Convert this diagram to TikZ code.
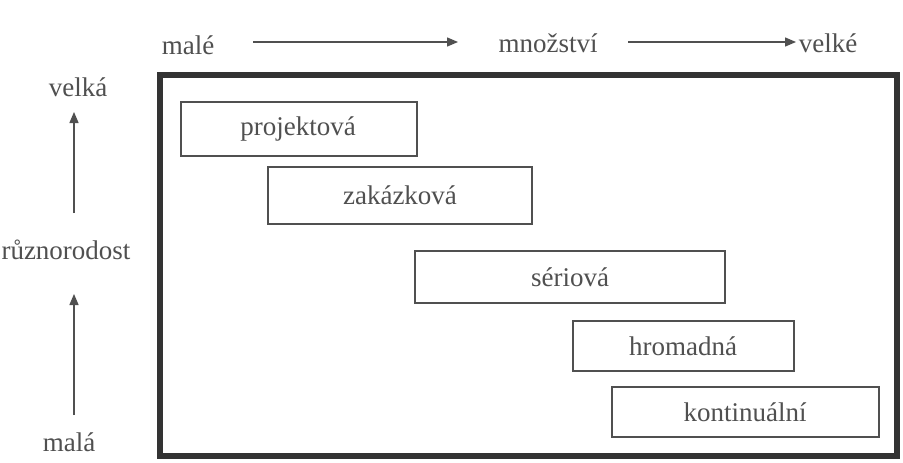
\documentclass[tikz,border=0pt]{standalone}
\usepackage{fontspec}
\setmainfont{Liberation Serif}
\usetikzlibrary{arrows.meta}
\definecolor{ink}{HTML}{505050}
\definecolor{frameink}{HTML}{333333}
\begin{document}
\begin{tikzpicture}[x=1pt,y=-1pt,
  lbl/.style={text=ink,font=\fontsize{27}{30}\selectfont,inner sep=0pt},
  kind/.style={draw=ink,line width=1.3pt},
  axis/.style={draw=ink,line width=1.3pt,-{Triangle[length=11pt,width=9pt]}}]
\useasboundingbox[fill=white] (0,0) rectangle (903,463);
% outer frame
\draw[frameink,line width=5.5pt] (160,75) rectangle (897,456);
% production types
\draw[kind] (181,102) rectangle (417,156);
\node[lbl] (proj) at (298,129) {projektová};
\draw[kind] (268,167) rectangle (532,224);
\node[lbl] (zak) at (400,195) {zakázková};
\draw[kind] (415,251) rectangle (725,303);
\node[lbl] (ser) at (570,277) {sériová};
\draw[kind] (573,321) rectangle (794,371);
\node[lbl] (hrom) at (683,346) {hromadná};
\draw[kind] (612,387) rectangle (879,437);
\node[lbl] (kont) at (745,412) {kontinuální};
% quantity axis
\node[lbl] (male) at (188,45) {malé};
\node[lbl] (mnoz) at (548,43) {množství};
\node[lbl] (velke) at (828,43) {velké};
\coordinate (a1s) at (253,42);
\coordinate (a1e) at (458,42);
\coordinate (a2s) at (628,42);
\coordinate (a2e) at (796,42);
\draw[axis] (a1s) -- (a1e);
\draw[axis] (a2s) -- (a2e);
% diversity axis
\node[lbl] (velka) at (78,87) {velká};
\node[lbl] (ruzn) at (66,250) {různorodost};
\node[lbl] (mala) at (69,442) {malá};
\coordinate (b1s) at (74,213);
\coordinate (b1e) at (74,112);
\coordinate (b2s) at (74,415);
\coordinate (b2e) at (74,294);
\draw[axis] (b1s) -- (b1e);
\draw[axis] (b2s) -- (b2e);
\end{tikzpicture}
\end{document}
